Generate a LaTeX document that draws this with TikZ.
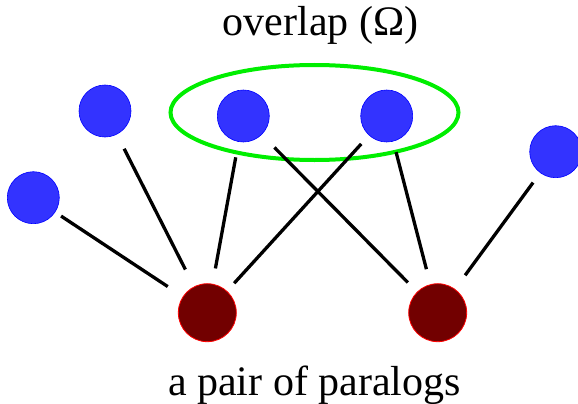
\documentclass[tikz,border=0pt]{standalone}
\usepackage{fontspec}
\setmainfont{Liberation Serif}
\usetikzlibrary{shapes.geometric}
\definecolor{bluenode}{RGB}{51,51,255}
\definecolor{redfill}{RGB}{114,0,0}
\definecolor{ellgreen}{RGB}{0,238,0}
\begin{document}
\begin{tikzpicture}[x=1pt,y=-1pt,
  bnode/.style={circle,fill=bluenode,draw=blue,line width=0.6pt,minimum size=52pt,inner sep=0pt},
  rnode/.style={circle,fill=redfill,draw=red,line width=0.8pt,minimum size=58pt,inner sep=0pt},
  edge/.style={line width=3.3pt,black},
  lbl/.style={font=\fontsize{42}{46}\selectfont,anchor=base,inner sep=0pt}]
\useasboundingbox (0,0) rectangle (578,404);
\node[bnode] (a) at (33.3,197.7) {};
\node[bnode] (b) at (105,111) {};
\node[bnode] (c) at (243.3,116) {};
\node[bnode] (d) at (386.7,116) {};
\node[bnode] (e) at (555.7,151.7) {};
\node[rnode] (l) at (207.3,312.7) {};
\node[rnode] (r) at (437.7,312.7) {};
\node[draw=ellgreen,line width=4pt,ellipse,minimum width=288pt,minimum height=95pt,inner sep=0pt] (ell) at (314.5,112.5) {};
\draw[edge,shorten <=7pt,shorten >=18pt] (a) -- (l);
\draw[edge,shorten <=16pt,shorten >=19pt] (b) -- (l);
\draw[edge,shorten <=15.7pt,shorten >=15.6pt] (c) -- (l);
\draw[edge,shorten <=11.5pt,shorten >=10.5pt] (d) -- (l);
\draw[edge,shorten <=18pt,shorten >=13pt] (c) -- (r);
\draw[edge,shorten <=11pt,shorten >=15.6pt] (d) -- (r);
\draw[edge,shorten <=12pt,shorten >=17pt] (e) -- (r);
\node[lbl] (t1) at (320.5,36) {overlap (Ω)};
\node[lbl] (t2) at (314.5,395.5) {a pair of paralogs};
\end{tikzpicture}
\end{document}
